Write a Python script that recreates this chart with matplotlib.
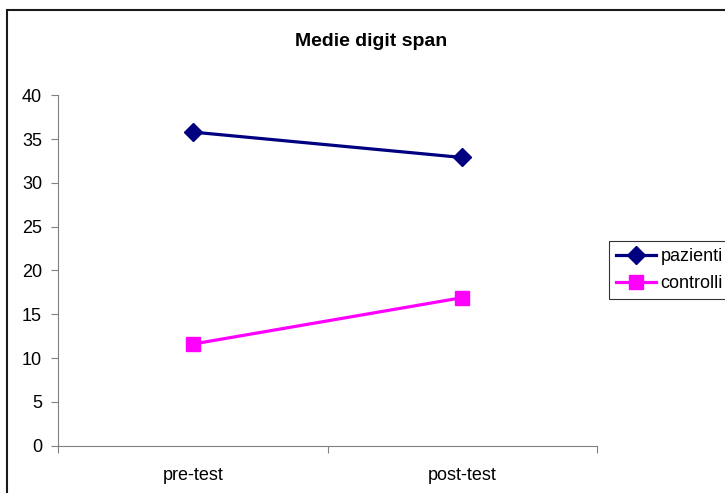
import matplotlib.pyplot as plt
from matplotlib.patches import Rectangle

# data
categories = ["pre-test", "post-test"]
pazienti = [35.8, 32.9]
controlli = [11.6, 16.9]
y_ticks = [0, 5, 10, 15, 20, 25, 30, 35, 40]

plt.rcParams['font.family'] = ['Liberation Sans', 'DejaVu Sans']

fig = plt.figure(figsize=(7.25, 4.93), dpi=100)
ax = fig.add_axes([58 / 725, 1 - 445.7 / 493, (597 - 58) / 725, (445.7 - 95.3) / 493])

xpos = [i + 0.5 for i in range(len(categories))]
ax.plot(xpos, pazienti, color="#000080", marker="D", markersize=9, linewidth=2.3, label="pazienti")
ax.plot(xpos, controlli, color="#ff00ff", marker="s", markersize=10, linewidth=2.3, label="controlli")

ax.set_xlim(0, len(categories))
ax.set_ylim(0, 40)
ax.set_yticks(y_ticks)
ax.tick_params(axis="y", labelsize=13, length=5, color="#808080", pad=6.5)

# category boundaries as tick marks, names centered between them
ax.set_xticks(range(len(categories) + 1))
ax.set_xticklabels([])
ax.set_xticks(xpos, minor=True)
ax.set_xticklabels(categories, minor=True, fontsize=13)
ax.tick_params(axis="x", which="major", length=5, color="#808080")
ax.tick_params(axis="x", which="minor", length=0, pad=15)

for side in ["top", "right"]:
    ax.spines[side].set_visible(False)
for side in ["left", "bottom"]:
    ax.spines[side].set_color("#808080")

fig.text(371 / 725, 1 - 42 / 493, "Medie digit span", ha="center", va="center",
         fontsize=14, fontweight="bold")

leg = fig.legend(loc="upper left", bbox_to_anchor=(609 / 725, 1 - 241 / 493),
                 fontsize=13, frameon=True, fancybox=False, edgecolor="black",
                 borderpad=0.4, handlelength=2.2, handletextpad=0.25,
                 labelspacing=0.55, borderaxespad=0)
leg.get_frame().set_linewidth(0.8)

# outer chart border (runs off right/bottom like the reference)
fig.patches.append(Rectangle((7 / 725, -0.1), 1.2, 1 - 10 / 493 + 0.1,
                             transform=fig.transFigure, fill=False,
                             edgecolor="#1a1a1a", linewidth=1.5))

fig.savefig("out.png", dpi=100)
